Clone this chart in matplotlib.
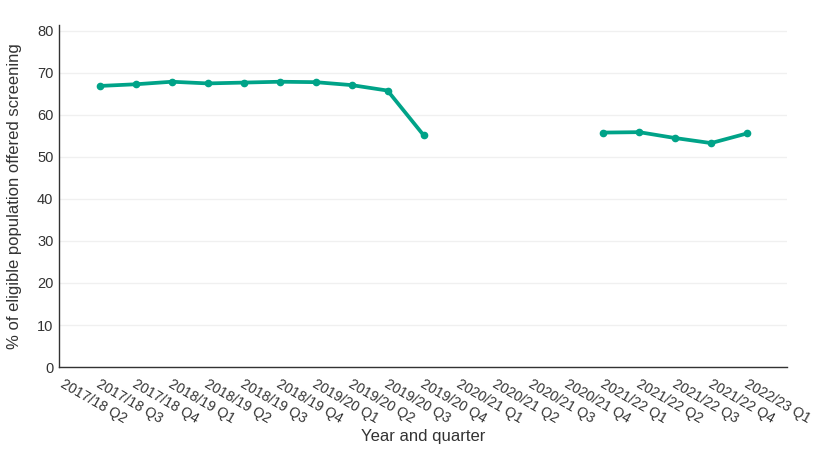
import numpy as np
import matplotlib
matplotlib.use("Agg")
import matplotlib.pyplot as plt
import matplotlib.transforms as mtransforms

plt.rcParams['font.family'] = ['Liberation Sans', 'DejaVu Sans']

# Quarters shown on the x axis
quarters = ["2017/18 Q2", "2017/18 Q3", "2017/18 Q4", "2018/19 Q1", "2018/19 Q2",
            "2018/19 Q3", "2018/19 Q4", "2019/20 Q1", "2019/20 Q2", "2019/20 Q3",
            "2019/20 Q4", "2020/21 Q1", "2020/21 Q2", "2020/21 Q3", "2020/21 Q4",
            "2021/22 Q1", "2021/22 Q2", "2021/22 Q3", "2021/22 Q4", "2022/23 Q1"]

# % of eligible population offered screening (NaN = no data)
offered = [66.9, 67.3, 67.9, 67.5, 67.7, 67.9, 67.8, 67.1, 65.8, 55.2,
           np.nan, np.nan, np.nan, np.nan,
           55.8, 55.9, 54.5, 53.3, 55.6, np.nan]

yticks = [0, 10, 20, 30, 40, 50, 60, 70, 80]

fig = plt.figure(figsize=(8.34, 4.5), dpi=100)
ax = fig.add_axes([0.0707, 0.1844, 0.8729, 0.76])

x = np.arange(len(quarters))
ax.plot(x, offered, color='#00a388', linewidth=2.7, marker='o', markersize=4.5,
        solid_capstyle='round', zorder=3)

ax.set_xlim(-1.14, 19.11)
ax.set_ylim(0, 81.4)
ax.set_yticks(yticks)
ax.set_xticks(x)
ax.set_xticklabels(quarters, rotation=-30, ha='center', color='#333333')

ax.tick_params(axis='both', length=0, labelsize=10.5, colors='#333333')
ax.tick_params(axis='x', pad=7, labelsize=10.2)
ax.tick_params(axis='y', pad=4)

# shift the rotated labels left, as in the reference (after tick_params, which resets transforms)
offset = mtransforms.ScaledTranslation(-6 / 100, 0, fig.dpi_scale_trans)
for lbl in ax.get_xticklabels():
    lbl.set_transform(lbl.get_transform() + offset)

ax.grid(axis='y', color='#f0f0f0', linewidth=1)
ax.set_axisbelow(True)
for side in ['top', 'right']:
    ax.spines[side].set_visible(False)
for side in ['left', 'bottom']:
    ax.spines[side].set_color('#333333')
    ax.spines[side].set_linewidth(1)

ax.set_xlabel("Year and quarter", fontsize=12, color='#333333', labelpad=2)
ax.set_ylabel("% of eligible population offered screening", fontsize=12,
              color='#333333', labelpad=11)

fig.savefig("out.png", dpi=100)
